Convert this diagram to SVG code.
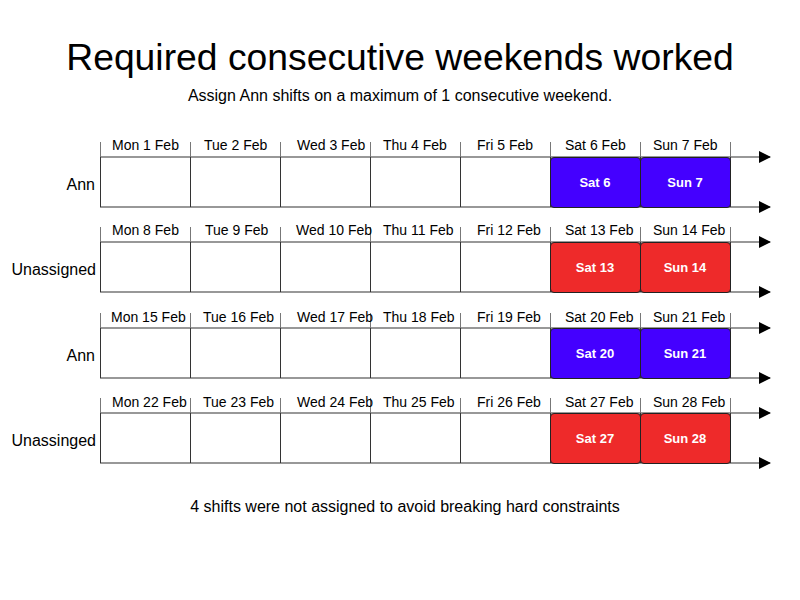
<svg xmlns="http://www.w3.org/2000/svg" width="800" height="600" viewBox="0 0 800 600">
<defs>
<marker id="arr" markerWidth="12" markerHeight="12" refX="11" refY="6" orient="auto" markerUnits="userSpaceOnUse">
<path d="M0,0 L12,6 L0,12 Z" fill="#000"/>
</marker>
<style>
text{font-family:"Liberation Sans",Arial,sans-serif;fill:#000}
.title{font-size:37.3px;text-anchor:middle}
.sub{font-size:16px;text-anchor:middle}
.day{font-size:14px;text-anchor:start}
.who{font-size:16px;text-anchor:end}
.shift{font-size:13px;font-weight:bold;text-anchor:middle;fill:#fff}
.grid{stroke:#333;stroke-width:1;fill:none}
.tick{stroke:#777;stroke-width:1;fill:none}
.axis{stroke:#333;stroke-width:1.2;fill:none;marker-end:url(#arr)}
.blue{fill:#4400ff;stroke:#222;stroke-width:1}
.red{fill:#ee2a2a;stroke:#222;stroke-width:1}
</style>
</defs>
<rect width="800" height="600" fill="#fff"/>
<text class="title" x="400" y="70">Required consecutive weekends worked</text>
<text class="sub" x="400" y="101">Assign Ann shifts on a maximum of 1 consecutive weekend.</text>

<g id="connectors">
<line class="axis" x1="100" y1="157" x2="770" y2="157"/>
<line class="axis" x1="100" y1="207" x2="770" y2="207"/>
<line class="axis" x1="100" y1="242" x2="770" y2="242"/>
<line class="axis" x1="100" y1="292" x2="770" y2="292"/>
<line class="axis" x1="100" y1="328" x2="770" y2="328"/>
<line class="axis" x1="100" y1="378" x2="770" y2="378"/>
<line class="axis" x1="100" y1="413" x2="770" y2="413"/>
<line class="axis" x1="100" y1="463" x2="770" y2="463"/>
</g>

<g id="row1">
<path class="tick" d="M100.5,142V157M190.5,142V157M280.5,142V157M370.5,142V157M460.5,142V157M550.5,142V157M640.5,142V157M730.5,142V157"/>
<path class="grid" d="M100.5,157V207M190.5,157V207M280.5,157V207M370.5,157V207M460.5,157V207M550.5,157V207M640.5,157V207M730.5,157V207"/>
<text class="day" x="112" y="150">Mon 1 Feb</text>
<text class="day" x="204" y="150">Tue 2 Feb</text>
<text class="day" x="297" y="150">Wed 3 Feb</text>
<text class="day" x="383" y="150">Thu 4 Feb</text>
<text class="day" x="477" y="150">Fri 5 Feb</text>
<text class="day" x="565" y="150">Sat 6 Feb</text>
<text class="day" x="653" y="150">Sun 7 Feb</text>
<text class="who" x="95" y="190">Ann</text>
</g>
<g id="shift-sat6"><rect class="blue" x="550.5" y="157.5" width="90" height="50" rx="3.5"/><text class="shift" x="595" y="187">Sat 6</text></g>
<g id="shift-sun7"><rect class="blue" x="640.5" y="157.5" width="90" height="50" rx="3.5"/><text class="shift" x="685" y="187">Sun 7</text></g>

<g id="row2">
<path class="tick" d="M100.5,227V242M190.5,227V242M280.5,227V242M370.5,227V242M460.5,227V242M550.5,227V242M640.5,227V242M730.5,227V242"/>
<path class="grid" d="M100.5,242V292M190.5,242V292M280.5,242V292M370.5,242V292M460.5,242V292M550.5,242V292M640.5,242V292M730.5,242V292"/>
<text class="day" x="112" y="235">Mon 8 Feb</text>
<text class="day" x="205" y="235">Tue 9 Feb</text>
<text class="day" x="296" y="235">Wed 10 Feb</text>
<text class="day" x="383" y="235">Thu 11 Feb</text>
<text class="day" x="477" y="235">Fri 12 Feb</text>
<text class="day" x="565" y="235">Sat 13 Feb</text>
<text class="day" x="653" y="235">Sun 14 Feb</text>
<text class="who" x="96" y="275">Unassigned</text>
</g>
<g id="shift-sat13"><rect class="red" x="550.5" y="242.5" width="90" height="50" rx="3.5"/><text class="shift" x="595" y="272">Sat 13</text></g>
<g id="shift-sun14"><rect class="red" x="640.5" y="242.5" width="90" height="50" rx="3.5"/><text class="shift" x="685" y="272">Sun 14</text></g>

<g id="row3">
<path class="tick" d="M100.5,313V328M190.5,313V328M280.5,313V328M370.5,313V328M460.5,313V328M550.5,313V328M640.5,313V328M730.5,313V328"/>
<path class="grid" d="M100.5,328V378M190.5,328V378M280.5,328V378M370.5,328V378M460.5,328V378M550.5,328V378M640.5,328V378M730.5,328V378"/>
<text class="day" x="111" y="322">Mon 15 Feb</text>
<text class="day" x="203" y="322">Tue 16 Feb</text>
<text class="day" x="297" y="322">Wed 17 Feb</text>
<text class="day" x="383" y="322">Thu 18 Feb</text>
<text class="day" x="477" y="322">Fri 19 Feb</text>
<text class="day" x="565" y="322">Sat 20 Feb</text>
<text class="day" x="653" y="322">Sun 21 Feb</text>
<text class="who" x="95" y="361">Ann</text>
</g>
<g id="shift-sat20"><rect class="blue" x="550.5" y="328.5" width="90" height="50" rx="3.5"/><text class="shift" x="595" y="358">Sat 20</text></g>
<g id="shift-sun21"><rect class="blue" x="640.5" y="328.5" width="90" height="50" rx="3.5"/><text class="shift" x="685" y="358">Sun 21</text></g>

<g id="row4">
<path class="tick" d="M100.5,398V413M190.5,398V413M280.5,398V413M370.5,398V413M460.5,398V413M550.5,398V413M640.5,398V413M730.5,398V413"/>
<path class="grid" d="M100.5,413V463M190.5,413V463M280.5,413V463M370.5,413V463M460.5,413V463M550.5,413V463M640.5,413V463M730.5,413V463"/>
<text class="day" x="112" y="407">Mon 22 Feb</text>
<text class="day" x="203" y="407">Tue 23 Feb</text>
<text class="day" x="297" y="407">Wed 24 Feb</text>
<text class="day" x="383" y="407">Thu 25 Feb</text>
<text class="day" x="477" y="407">Fri 26 Feb</text>
<text class="day" x="565" y="407">Sat 27 Feb</text>
<text class="day" x="653" y="407">Sun 28 Feb</text>
<text class="who" x="96" y="446">Unassinged</text>
</g>
<g id="shift-sat27"><rect class="red" x="550.5" y="413.5" width="90" height="50" rx="3.5"/><text class="shift" x="595" y="443">Sat 27</text></g>
<g id="shift-sun28"><rect class="red" x="640.5" y="413.5" width="90" height="50" rx="3.5"/><text class="shift" x="685" y="443">Sun 28</text></g>

<text class="sub" x="405" y="512">4 shifts were not assigned to avoid breaking hard constraints</text>
</svg>
